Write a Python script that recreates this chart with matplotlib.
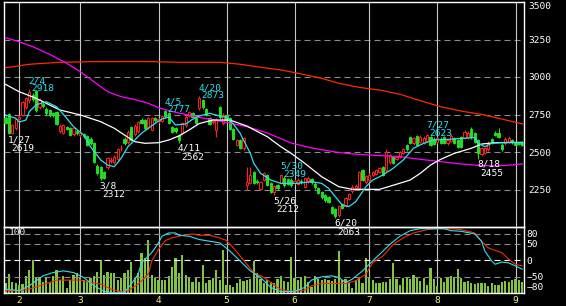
import matplotlib
matplotlib.use("Agg")
import matplotlib.pyplot as plt

# daily candles, trading-day index 0 = Jan 26 ... 152 = early Sep
opens = [2727, 2753, 2627, 2660, 2720, 2747, 2800, 2847, 2880, 2905, 2800, 2820, 2787, 2780, 2760, 2767,
         2640, 2627, 2665, 2660, 2620, 2640, 2615, 2620, 2607, 2587, 2560, 2407, 2400, 2367, 2400, 2440,
         2433, 2453, 2525, 2587, 2567, 2667, 2620, 2640, 2713, 2713, 2667, 2647, 2725, 2707, 2707, 2773,
         2760, 2667, 2660, 2613, 2627, 2680, 2740, 2760, 2727, 2793, 2847, 2787, 2727, 2700, 2647, 2800,
         2693, 2747, 2727, 2653, 2547, 2580, 2527, 2280, 2293, 2367, 2310, 2253, 2313, 2347, 2293, 2233,
         2280, 2293, 2327, 2320, 2313, 2295, 2290, 2310, 2267, 2305, 2320, 2290, 2260, 2233, 2213, 2200,
         2133, 2120, 2080, 2153, 2140, 2187, 2240, 2260, 2260, 2380, 2300, 2313, 2350, 2353, 2370, 2400,
         2380, 2433, 2467, 2455, 2467, 2493, 2547, 2600, 2560, 2607, 2567, 2560, 2573, 2600, 2587, 2567,
         2590, 2600, 2560, 2573, 2593, 2580, 2600, 2593, 2600, 2653, 2627, 2580, 2487, 2493, 2520, 2587,
         2627, 2627, 2547, 2560, 2567, 2580, 2567, 2560, 2567]
highs = [2740, 2760, 2690, 2730, 2745, 2840, 2870, 2918, 2895, 2910, 2860, 2835, 2800, 2790, 2770, 2775,
         2685, 2690, 2675, 2667, 2670, 2650, 2640, 2630, 2615, 2600, 2565, 2420, 2410, 2375, 2470, 2465,
         2480, 2530, 2545, 2600, 2645, 2675, 2685, 2710, 2725, 2720, 2735, 2735, 2735, 2725, 2750, 2777,
         2765, 2675, 2670, 2620, 2700, 2745, 2775, 2770, 2735, 2873, 2855, 2795, 2735, 2720, 2725, 2810,
         2760, 2755, 2735, 2660, 2590, 2590, 2600, 2400, 2400, 2375, 2320, 2310, 2370, 2355, 2300, 2280,
         2290, 2349, 2340, 2330, 2325, 2320, 2325, 2320, 2335, 2340, 2330, 2300, 2270, 2240, 2220, 2210,
         2140, 2125, 2150, 2160, 2200, 2230, 2280, 2290, 2375, 2390, 2350, 2360, 2375, 2390, 2400, 2405,
         2520, 2490, 2475, 2475, 2510, 2530, 2555, 2605, 2600, 2615, 2615, 2610, 2623, 2610, 2600, 2600,
         2600, 2610, 2590, 2620, 2600, 2590, 2605, 2645, 2640, 2665, 2635, 2585, 2535, 2535, 2573, 2593,
         2640, 2660, 2560, 2600, 2610, 2590, 2575, 2570, 2575]
lows = [2685, 2619, 2622, 2650, 2710, 2740, 2790, 2830, 2840, 2770, 2790, 2795, 2750, 2735, 2735, 2680,
        2630, 2620, 2645, 2605, 2610, 2615, 2600, 2595, 2540, 2550, 2425, 2345, 2312, 2320, 2390, 2425,
        2420, 2440, 2510, 2550, 2555, 2575, 2610, 2630, 2685, 2650, 2655, 2640, 2700, 2695, 2700, 2730,
        2685, 2625, 2630, 2562, 2615, 2670, 2735, 2725, 2685, 2780, 2790, 2740, 2680, 2690, 2600, 2720,
        2680, 2700, 2645, 2580, 2540, 2520, 2515, 2247, 2285, 2285, 2285, 2245, 2305, 2275, 2225, 2212,
        2250, 2285, 2270, 2280, 2270, 2285, 2280, 2290, 2260, 2295, 2290, 2255, 2220, 2190, 2170, 2160,
        2085, 2063, 2070, 2120, 2135, 2180, 2230, 2250, 2250, 2305, 2290, 2300, 2340, 2345, 2360, 2340,
        2370, 2420, 2420, 2445, 2460, 2485, 2510, 2553, 2550, 2540, 2560, 2555, 2565, 2540, 2545, 2560,
        2555, 2553, 2550, 2565, 2553, 2525, 2525, 2585, 2590, 2590, 2560, 2455, 2475, 2485, 2510, 2553,
        2605, 2595, 2510, 2550, 2560, 2555, 2540, 2545, 2540]
closes = [2693, 2627, 2680, 2720, 2733, 2833, 2860, 2900, 2853, 2780, 2847, 2810, 2760, 2747, 2745, 2687,
          2673, 2680, 2655, 2613, 2660, 2625, 2625, 2605, 2547, 2560, 2433, 2360, 2327, 2330, 2460, 2450,
          2467, 2520, 2530, 2560, 2633, 2580, 2673, 2700, 2693, 2660, 2727, 2727, 2713, 2720, 2740, 2740,
          2693, 2633, 2640, 2580, 2693, 2733, 2765, 2735, 2693, 2860, 2800, 2747, 2687, 2710, 2713, 2733,
          2747, 2713, 2653, 2587, 2580, 2527, 2593, 2300, 2347, 2293, 2297, 2300, 2360, 2280, 2233, 2273,
          2260, 2347, 2280, 2287, 2280, 2305, 2313, 2300, 2327, 2325, 2300, 2265, 2227, 2200, 2180, 2167,
          2093, 2073, 2140, 2127, 2193, 2220, 2267, 2273, 2367, 2313, 2340, 2347, 2365, 2380, 2393, 2347,
          2500, 2480, 2427, 2465, 2500, 2520, 2520, 2560, 2593, 2547, 2600, 2593, 2613, 2547, 2553, 2593,
          2560, 2560, 2580, 2610, 2560, 2533, 2533, 2633, 2627, 2600, 2567, 2493, 2527, 2527, 2560, 2560,
          2613, 2600, 2520, 2587, 2593, 2567, 2547, 2553, 2550]
volume = [100, 190, 110, 100, 80, 90, 170, 230, 340, 160, 160, 110, 150, 110, 170, 230, 130, 170, 50, 130,
          180, 200, 150, 130, 110, 150, 170, 210, 340, 180, 210, 200, 200, 130, 150, 200, 230, 310, 150, 200,
          410, 360, 540, 180, 150, 130, 130, 130, 170, 260, 360, 200, 390, 180, 150, 110, 160, 110, 280, 100,
          130, 150, 230, 130, 440, 80, 80, 60, 100, 140, 120, 130, 140, 320, 200, 140, 100, 130, 110, 100,
          140, 170, 120, 110, 370, 150, 130, 160, 170, 110, 60, 170, 140, 130, 140, 130, 120, 140, 430, 130,
          140, 100, 50, 130, 150, 100, 360, 150, 130, 100, 100, 110, 110, 140, 300, 140, 80, 150, 150, 140,
          180, 160, 120, 150, 80, 250, 140, 70, 150, 110, 160, 170, 160, 240, 150, 110, 120, 100, 90, 100,
          100, 100, 70, 100, 80, 80, 110, 120, 110, 130, 140, 130, 110]

# moving averages (day index, price)
ma_short_idx = [0, 3, 4, 6, 7, 9, 12, 15, 18, 20, 23, 25, 28, 30, 32, 34, 36, 38, 40, 42, 44, 46, 48, 50,
                53, 55, 57, 60, 63, 65, 67, 69, 70, 72, 73, 75, 78, 81, 84, 86, 90, 93, 95, 97, 99, 101,
                103, 104, 106, 108, 111, 114, 117, 120, 123, 126, 130, 134, 138, 139, 141, 143, 146, 152]
ma_short = [2747, 2725, 2700, 2713, 2769, 2815, 2835, 2802, 2725, 2669, 2613, 2535, 2447, 2413, 2402, 2458,
            2535, 2580, 2625, 2658, 2691, 2720, 2733, 2680, 2687, 2718, 2740, 2758, 2740, 2731, 2687, 2625,
            2580, 2491, 2425, 2358, 2313, 2291, 2291, 2291, 2302, 2291, 2258, 2202, 2147, 2136, 2169, 2202,
            2269, 2313, 2347, 2391, 2447, 2525, 2558, 2580, 2584, 2591, 2596, 2558, 2535, 2558, 2562, 2562]
ma_mid_idx = [0, 4, 9, 13, 16, 22, 28, 32, 35, 38, 41, 45, 48, 51, 54, 57, 61, 66, 71, 77, 81, 84, 88,
              93, 98, 102, 110, 115, 119, 122, 125, 128, 132, 137, 140, 144, 148, 152]
ma_mid = [2951, 2902, 2858, 2813, 2780, 2747, 2702, 2658, 2613, 2569, 2558, 2562, 2580, 2607, 2647, 2690,
          2713, 2713, 2673, 2602, 2535, 2491, 2425, 2335, 2269, 2251, 2251, 2285, 2313, 2358, 2413, 2451,
          2491, 2525, 2553, 2562, 2564, 2564]
ma_long_idx = [0, 4, 8, 13, 18, 22, 26, 30, 34, 38, 42, 45, 49, 53, 57, 64, 71, 77, 84, 90, 97, 102, 110,
               116, 122, 128, 134, 140, 145, 152]
ma_long = [3262, 3235, 3202, 3151, 3091, 3035, 2969, 2902, 2869, 2850, 2825, 2795, 2770, 2750, 2731, 2702,
           2669, 2627, 2560, 2527, 2500, 2487, 2476, 2469, 2451, 2436, 2420, 2409, 2407, 2420]
ma_200_idx = [0, 2, 7, 16, 25, 34, 42, 51, 63, 69, 75, 81, 86, 93, 98, 104, 110, 116, 122, 128, 134, 140,
              145, 152]
ma_200 = [3062, 3068, 3085, 3098, 3102, 3103, 3103, 3098, 3098, 3085, 3065, 3047, 3025, 2991, 2958, 2931,
          2913, 2885, 2842, 2802, 2773, 2751, 2725, 2687]

# oscillator in the lower panel
osc_k_idx = [0, 4, 7, 9, 11, 14, 17, 20, 23, 26, 29, 32, 35, 37, 39, 40, 43, 45, 46, 48, 50, 51, 54, 57,
             60, 63, 66, 69, 72, 75, 78, 81, 85, 88, 90, 93, 96, 98, 100, 102, 105, 107, 110, 113, 116,
             119, 122, 129, 131, 134, 138, 140, 141, 143, 144, 146, 148, 150, 152]
osc_k = [-88, -93, -78, -63, -48, -38, -33, -38, -53, -78, -95, -100, -97, -73, -43, -8, 22, 52, 72, 82,
         82, 75, 72, 62, 57, 52, 27, -3, -33, -53, -83, -96, -95, -83, -61, -51, -48, -53, -68, -58, -33,
         -13, 17, 47, 72, 89, 95, 95, 89, 87, 79, 57, 27, -3, -13, -6, -9, -18, -28]
osc_d_idx = [0, 4, 7, 10, 13, 15, 18, 22, 25, 28, 31, 34, 36, 39, 42, 43, 45, 47, 49, 52, 55, 57, 60, 63,
             65, 67, 69, 71, 73, 76, 78, 81, 85, 88, 90, 93, 96, 100, 103, 106, 108, 111, 114, 117, 120,
             124, 128, 131, 134, 138, 140, 142, 144, 146, 148, 150, 152]
osc_d = [-93, -93, -88, -78, -68, -61, -61, -61, -68, -73, -88, -96, -93, -73, -43, -3, 32, 59, 67, 75,
         79, 75, 75, 67, 59, 37, 12, -13, -38, -53, -68, -90, -95, -91, -78, -71, -71, -71, -63, -43, -8,
         12, 47, 67, 82, 92, 95, 95, 92, 82, 57, 37, 29, 22, 2, -13, -18]

# turning-point labels
peak_idx = [7, 47, 57, 81, 124]
peak_dates = ["2/4", "4/5", "4/20", "5/30", "7/27"]
trough_idx = [1, 28, 51, 79, 97, 139]
trough_dates = ["1/27", "3/8", "4/11", "5/26", "6/20", "8/18"]

month_idx = [4, 22, 45, 65, 85, 107, 127, 150]
month_labels = ["2", "3", "4", "5", "6", "7", "8", "9"]
price_ticks = [2250, 2500, 2750, 3000, 3250, 3500]
osc_ticks = [80, 50, 0, -50, -80]

UP = "#ff2020"
DOWN = "#20e020"
GRID = "#c8c8c8"
DASH = "#8c8c8c"
FONT = "DejaVu Sans Mono"
FS = 6.8

plt.rcParams["font.family"] = FONT

fig = plt.figure(figsize=(5.66, 3.06), dpi=100, facecolor="black")
ax = fig.add_axes([4 / 566, 79 / 306, 520 / 566, 225 / 306], facecolor="black")
axv = fig.add_axes([4 / 566, 13 / 306, 520 / 566, 66 / 306], facecolor="black")
axo = axv.twinx()
ax.set_zorder(3)
ax.patch.set_visible(False)

n = len(opens)
days = list(range(n))
xlim = (-0.45, 152.5)

# main panel grid
for v in price_ticks[:-1]:
    ax.axhline(v, color=DASH, lw=0.8, ls=(0, (5.4, 3.6)), zorder=1)
for m in month_idx:
    ax.axvline(m, color=GRID, lw=0.8, zorder=1)
    axv.axvline(m, color=GRID, lw=0.8, zorder=1)

# candles
for i in days:
    up = closes[i] >= opens[i]
    col = UP if up else DOWN
    ax.vlines(i, lows[i], highs[i], color=col, lw=0.8, zorder=2)
    lo, hi = min(opens[i], closes[i]), max(opens[i], closes[i])
    ax.bar(i, max(hi - lo, 4), bottom=lo, width=0.62,
           color="black" if up else DOWN, edgecolor=col, lw=0.7, zorder=3)

# moving averages
ax.plot(ma_200_idx, ma_200, color="#ff2a00", lw=0.9, zorder=4)
ax.plot(ma_long_idx, ma_long, color="#ff00ff", lw=0.9, zorder=4)
ax.plot(ma_mid_idx, ma_mid, color="white", lw=0.9, zorder=4)
ax.plot(ma_short_idx, ma_short, color="#30e0f0", lw=0.9, zorder=4)

# high / low labels
for i, d in zip(peak_idx, peak_dates):
    ax.annotate(d, (i, highs[i]), xytext=(-1, 6), textcoords="offset pixels",
                color="#30e0f0", fontsize=FS, va="baseline", zorder=6)
    ax.annotate(str(highs[i]), (i, highs[i]), xytext=(2, -2), textcoords="offset pixels",
                color="#30e0f0", fontsize=FS, va="baseline", zorder=6)
for i, d in zip(trough_idx, trough_dates):
    ax.annotate(d, (i, lows[i]), xytext=(-1, -8), textcoords="offset pixels",
                color="white", fontsize=FS, va="baseline", zorder=6)
    ax.annotate(str(lows[i]), (i, lows[i]), xytext=(2, -17), textcoords="offset pixels",
                color="white", fontsize=FS, va="baseline", zorder=6)

ax.set_xlim(*xlim)
ax.set_ylim(2000, 3500)
ax.set_xticks([])
ax.set_yticks(price_ticks)
ax.yaxis.tick_right()
ax.tick_params(axis="y", length=0, pad=3, labelcolor="white", labelsize=FS)
ax.get_yticklabels()[-1].set_verticalalignment("top")
for s in ax.spines.values():
    s.set_color("white")
    s.set_linewidth(1)

# volume
axv.bar(days, volume, width=0.66, color="#84c440", zorder=2)
axv.set_xlim(*xlim)
axv.set_ylim(0, 670)
axv.set_yticks([])
axv.set_xticks(month_idx)
axv.set_xticklabels(month_labels)
axv.tick_params(axis="x", length=0, pad=2, labelcolor="#f0f080", labelsize=FS)
for s in axv.spines.values():
    s.set_color("white")
    s.set_linewidth(1)

# oscillator
for v, c in [(80, DASH), (50, DASH), (0, "white"), (-50, DASH)]:
    axo.axhline(v, color=c, lw=0.8, ls=(0, (5.4, 3.6)), zorder=1)
axo.plot(osc_d_idx, osc_d, color="#ff2a00", lw=0.8, zorder=3)
axo.plot(osc_k_idx, osc_k, color="#30e0f0", lw=0.8, zorder=3)
axo.set_ylim(-100, 100)
axo.set_yticks(osc_ticks)
axo.tick_params(axis="y", length=0, pad=2, labelcolor="white", labelsize=FS)
for s in axo.spines.values():
    s.set_visible(False)
axv.text(0.01, 0.88, "100", transform=axv.transAxes, color="white", fontsize=FS, zorder=5)

fig.savefig("out.png", dpi=100, facecolor="black")
